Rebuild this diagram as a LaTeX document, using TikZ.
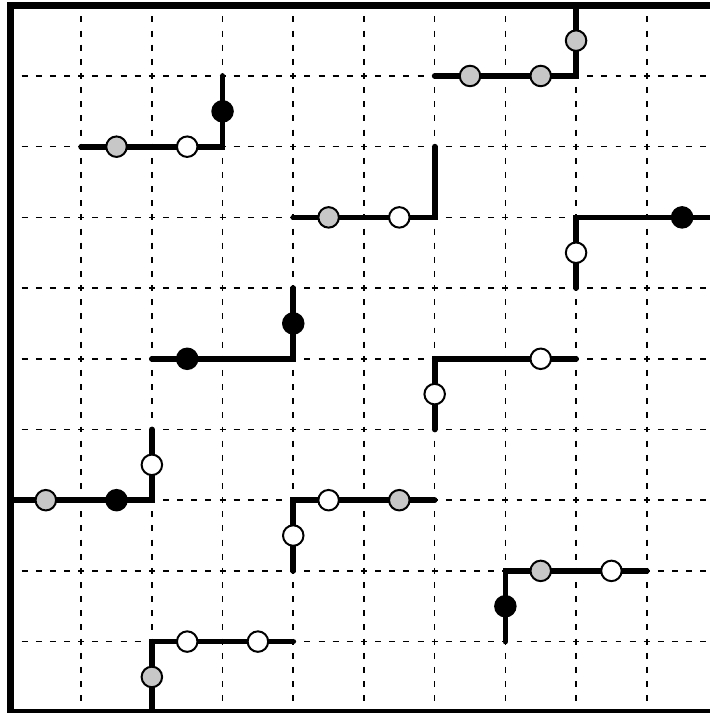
\documentclass[tikz,border=0pt]{standalone}
\begin{document}
\begin{tikzpicture}[x=1cm,y=1cm,
  gridline/.style={line width=0.65pt, dash pattern=on 2.4pt off 3.2906pt, dash phase=1.2pt},
  frame/.style={line width=2.8pt},
  walk/.style={line width=2.3pt, line cap=round, line join=miter},
  dot/.style={circle, draw, line width=0.8pt, minimum size=0.29cm, inner sep=0pt},
  gdot/.style={dot, fill=black!22},
  wdot/.style={dot, fill=white},
  bdot/.style={dot, fill=black}]
\useasboundingbox (-0.148,-0.01) rectangle (9.894,10.075);
\clip (-0.148,-0.01) rectangle (9.894,10.075);
% grid
\foreach \i in {1,...,9} {
  \draw[gridline] (\i,10) -- (\i,0);
  \draw[gridline] (0,\i) -- (10,\i);
}
% frame
\draw[frame] (0,0) rectangle (10,10);
% walks
\coordinate (a1) at (6,9); \coordinate (a2) at (8,9); \coordinate (a3) at (8,10);
\draw[walk] (a1) -- (a2) -- (a3);
\node[gdot] (a4) at (6.5,9) {}; \node[gdot] (a5) at (7.5,9) {}; \node[gdot] (a6) at (8,9.5) {};

\coordinate (b1) at (1,8); \coordinate (b2) at (3,8); \coordinate (b3) at (3,9);
\draw[walk] (b1) -- (b2) -- (b3);
\node[gdot] (b4) at (1.5,8) {}; \node[wdot] (b5) at (2.5,8) {}; \node[bdot] (b6) at (3,8.5) {};

\coordinate (c1) at (4,7); \coordinate (c2) at (6,7); \coordinate (c3) at (6,8);
\draw[walk] (c1) -- (c2) -- (c3);
\node[gdot] (c4) at (4.5,7) {}; \node[wdot] (c5) at (5.5,7) {};

\coordinate (d1) at (8,6); \coordinate (d2) at (8,7); \coordinate (d3) at (10.2,7);
\draw[walk] (d1) -- (d2) -- (d3);
\node[wdot] (d4) at (8,6.5) {}; \node[bdot] (d5) at (9.5,7) {};

\coordinate (e1) at (2,5); \coordinate (e2) at (4,5); \coordinate (e3) at (4,6);
\draw[walk] (e1) -- (e2) -- (e3);
\node[bdot] (e4) at (2.5,5) {}; \node[bdot] (e5) at (4,5.5) {};

\coordinate (f1) at (6,4); \coordinate (f2) at (6,5); \coordinate (f3) at (8,5);
\draw[walk] (f1) -- (f2) -- (f3);
\node[wdot] (f4) at (6,4.5) {}; \node[wdot] (f5) at (7.5,5) {};

\coordinate (g1) at (0,3); \coordinate (g2) at (2,3); \coordinate (g3) at (2,4);
\draw[walk] (g1) -- (g2) -- (g3);
\node[gdot] (g4) at (0.5,3) {}; \node[bdot] (g5) at (1.5,3) {}; \node[wdot] (g6) at (2,3.5) {};

\coordinate (h1) at (4,2); \coordinate (h2) at (4,3); \coordinate (h3) at (6,3);
\draw[walk] (h1) -- (h2) -- (h3);
\node[wdot] (h4) at (4,2.5) {}; \node[wdot] (h5) at (4.5,3) {}; \node[gdot] (h6) at (5.5,3) {};

\coordinate (k1) at (7,1); \coordinate (k2) at (7,2); \coordinate (k3) at (9,2);
\draw[walk] (k1) -- (k2) -- (k3);
\node[bdot] (k4) at (7,1.5) {}; \node[gdot] (k5) at (7.5,2) {}; \node[wdot] (k6) at (8.5,2) {};

\coordinate (m1) at (2,0); \coordinate (m2) at (2,1); \coordinate (m3) at (4,1);
\draw[walk] (m1) -- (m2) -- (m3);
\node[gdot] (m4) at (2,0.5) {}; \node[wdot] (m5) at (2.5,1) {}; \node[wdot] (m6) at (3.5,1) {};
\end{tikzpicture}
\end{document}
